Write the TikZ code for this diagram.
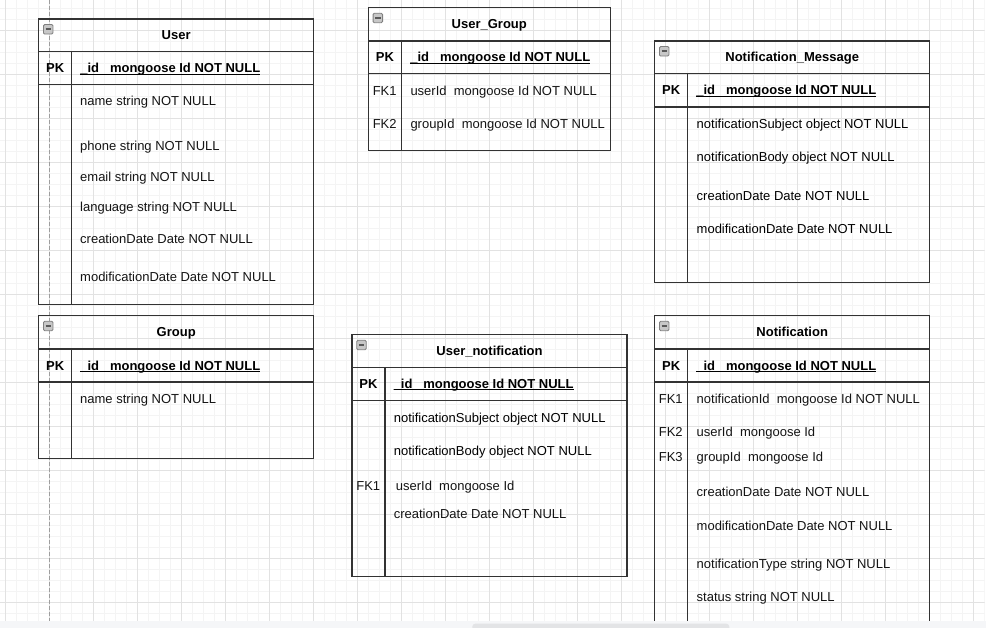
\documentclass[tikz,border=0pt]{standalone}
\usepackage{fontspec}
\setmainfont{Liberation Sans}
\definecolor{minorgrid}{HTML}{F4F4F4}
\definecolor{majorgrid}{HTML}{E2E2E2}
\definecolor{barcol}{HTML}{F5F6F8}
\definecolor{thumbcol}{HTML}{E3E4E6}
\newcommand\fsz{\fontsize{13}{16}\selectfont}
\tikzset{
  tabline/.style={draw=black!80, line width=1.5pt},
  fieldtxt/.style={anchor=base west, inner sep=0pt, text=black!92, font=\fsz},
  keytxt/.style={anchor=base, inner sep=0pt, text=black!92, font=\fsz},
  pkkey/.style={anchor=base, inner sep=0pt, text=black, font=\fsz\bfseries},
  titletxt/.style={anchor=base, inner sep=0pt, text=black, font=\fsz\bfseries},
  iconbox/.style={draw=black!50, fill=black!22, line width=0.9pt, minimum width=9.5pt, minimum height=9.5pt, inner sep=0pt, rounded corners=1.2pt},
  iconminus/.style={draw=black!65, line width=1.8pt},
  uline/.style={draw=black, line width=0.9pt},
  minorline/.style={draw=minorgrid, line width=0.7pt},
  majorline/.style={draw=majorgrid, line width=0.9pt},
  pagebreak/.style={draw=black!38, line width=0.9pt, dash pattern=on 4pt off 2pt}
}
% #1 prefix, #2 left, #3 top, #4 right, #5 header bottom, #6 pk bottom, #7 bottom, #8 divider x, #9 title
\newcommand\ertab[9]{%
  \draw[tabline] (#2,#3) rectangle (#4,#7);
  \draw[tabline] (#2,#5) -- (#4,#5);
  \draw[tabline] (#2,#6) -- (#4,#6);
  \draw[tabline] (#8,#5) -- (#8,#7);
  \node[iconbox] (#1icon) at ({#2+9.5},{#3+10.3}) {};
  \draw[iconminus] ([xshift=-2.7pt]#1icon.center) -- ([xshift=2.7pt]#1icon.center);
  \node[titletxt] (#1title) at ({(#2+#4)/2},{(#3+#5)/2+4.6}) {#9};
  \node[pkkey] (#1pk) at ({(#2+#8)/2},{(#5+#6)/2+4.6}) {PK};
  \node[fieldtxt, font=\fsz\bfseries, text=black] (#1pkf) at ({#8+8.5},{(#5+#6)/2+4.6}) {\_id\ \ \ mongoose Id NOT NULL};
  \draw[uline] ([yshift=-1.2pt]#1pkf.base west) -- ([yshift=-1.2pt]#1pkf.base east);
}
\begin{document}
\begin{tikzpicture}[x=1pt, y=-1pt]
\useasboundingbox[fill=white] (0,0) rectangle (986,628);
% grid
\begin{scope}
  \clip (0,0) rectangle (984.5,621);
  \foreach \i in {0,...,89} \draw[minorline] ({5.7+11*\i},0) -- ({5.7+11*\i},621);
  \foreach \j in {-1,...,56} \draw[minorline] (0,{8.3+11*\j}) -- (984.5,{8.3+11*\j});
  \foreach \i in {0,...,22} \draw[majorline] ({5.7+44*\i},0) -- ({5.7+44*\i},621);
  \foreach \j in {-1,...,14} \draw[majorline] (0,{30.3+44*\j}) -- (984.5,{30.3+44*\j});
\end{scope}
\coordinate (pbtop) at (49.7,0);
\coordinate (pbbot) at (49.7,621);
\draw[pagebreak] (pbtop) -- (pbbot);

% User
\ertab{u}{38.7}{19}{313.7}{51.7}{84.7}{304.7}{71.7}{User}
\node[fieldtxt] (u1) at (80,105.6) {name string NOT NULL};
\node[fieldtxt] (u2) at (80,150.3) {phone string NOT NULL};
\node[fieldtxt] (u3) at (80,181.6) {email string NOT NULL};
\node[fieldtxt] (u4) at (80,211.3) {language string NOT NULL};
\node[fieldtxt] (u5) at (80,243.9) {creationDate Date NOT NULL};
\node[fieldtxt] (u6) at (80,281.9) {modificationDate Date NOT NULL};

% User_Group
\ertab{ug}{368.3}{7.7}{610.3}{41}{73.7}{150.7}{401.7}{User\_Group}
\node[keytxt] (ugk1) at (384.7,95.3) {FK1};
\node[fieldtxt] (ug1) at (410.3,95.3) {userId\ \ mongoose Id NOT NULL};
\node[keytxt] (ugk2) at (384.7,128.6) {FK2};
\node[fieldtxt] (ug2) at (410.3,128.6) {groupId\ \ mongoose Id NOT NULL};

% Notification_Message
\ertab{nm}{654.7}{41}{929.7}{73.7}{107}{282.3}{687.7}{Notification\_Message}
\node[fieldtxt, text=black] (nm1) at (696.5,128.3) {notificationSubject object NOT NULL};
\node[fieldtxt, text=black] (nm2) at (696.5,161.6) {notificationBody object NOT NULL};
\node[fieldtxt, text=black] (nm3) at (696.5,200.3) {creationDate Date NOT NULL};
\node[fieldtxt, text=black] (nm4) at (696.5,233.3) {modificationDate Date NOT NULL};

% Group
\ertab{g}{38.7}{315.7}{313.7}{349}{382}{458.7}{71.7}{Group}
\node[fieldtxt] (g1) at (80,403.3) {name string NOT NULL};

% User_notification
\ertab{un}{352}{334.7}{627}{367.7}{400.3}{576.7}{385}{User\_notification}
\node[fieldtxt, text=black] (un1) at (393.6,422.3) {notificationSubject object NOT NULL};
\node[fieldtxt, text=black] (un2) at (393.6,455.3) {notificationBody object NOT NULL};
\node[keytxt] (unk1) at (368.3,490.3) {FK1};
\node[fieldtxt] (un3) at (395.7,490.3) {userId\ \ mongoose Id};
\node[fieldtxt] (un4) at (393.6,518.9) {creationDate Date NOT NULL};

% Notification
\ertab{n}{654.7}{315.7}{929.7}{349}{382}{630}{687.7}{Notification}
\node[keytxt] (nk1) at (670.8,403.3) {FK1};
\node[fieldtxt] (n1) at (696.5,403.3) {notificationId\ \ mongoose Id NOT NULL};
\node[keytxt] (nk2) at (670.8,436.6) {FK2};
\node[fieldtxt] (n2) at (696.5,436.6) {userId\ \ mongoose Id};
\node[keytxt] (nk3) at (670.8,461.3) {FK3};
\node[fieldtxt] (n3) at (696.5,461.3) {groupId\ \ mongoose Id};
\node[fieldtxt] (n4) at (696.5,496.3) {creationDate Date NOT NULL};
\node[fieldtxt] (n5) at (696.5,530.6) {modificationDate Date NOT NULL};
\node[fieldtxt] (n6) at (696.5,568.3) {notificationType string NOT NULL};
\node[fieldtxt] (n7) at (696.5,601.6) {status string NOT NULL};

% bottom bar and scroll thumb
\fill[barcol] (0,620.8) rectangle (986,628);
\fill[thumbcol, rounded corners=3pt] (472.3,623.7) rectangle (729.3,634);
\end{tikzpicture}
\end{document}
